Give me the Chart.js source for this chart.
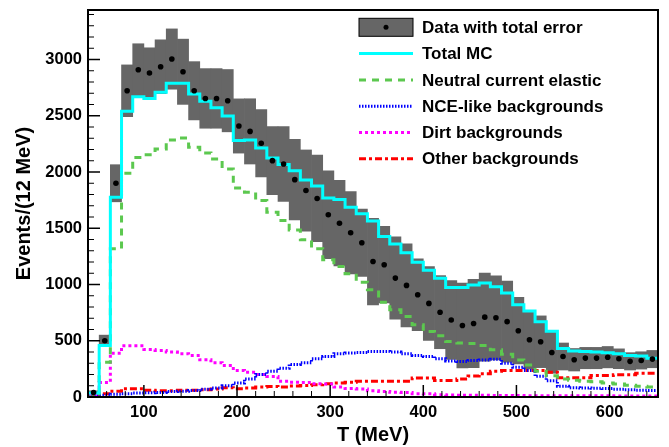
<!DOCTYPE html>
<html>
<head>
<meta charset="utf-8">
<script src="https://cdn.jsdelivr.net/npm/chart.js@4.4.0/dist/chart.umd.min.js"></script>
<style>
  html, body { margin: 0; padding: 0; background: #fff; }
  #wrap { width: 669px; height: 447px; }
</style>
</head>
<body>
<div id="wrap"><canvas id="myChart"></canvas></div>
<script>
// 51 bins of 12 MeV from 40 to 652 MeV
const binLow = 40;
const binWidth = 12;
const xTicks = [100, 200, 300, 400, 500, 600];
const yTicks = [0, 500, 1000, 1500, 2000, 2500, 3000];

const dataValues = [40, 500, 1900, 2722, 2909, 2880, 2936, 3004, 2891, 2722, 2654, 2654, 2634, 2409, 2361, 2255, 2101,
  2071, 1932, 1835, 1765, 1620, 1545, 1460, 1371, 1204, 1176, 1057, 992, 909, 832, 754, 685, 636, 653, 710, 704,
  670, 589, 509, 491, 396, 360, 331, 346, 346, 354, 340, 317, 325, 337];
const dataErrors = [15, 50, 165, 230, 231, 224, 239, 268, 290, 259, 265, 265, 277, 241, 290, 299, 302,
  333, 358, 361, 385, 390, 380, 365, 300, 385, 340, 366, 370, 320, 328, 325, 350, 377, 393, 392, 374,
  360, 296, 260, 230, 185, 120, 100, 95, 95, 95, 88, 77, 77, 77];
const totalMC = [35, 458, 1775, 2539, 2669, 2654, 2708, 2788, 2788, 2693, 2628, 2572, 2498, 2279, 2285, 2214, 2125,
  2066, 2012, 1930, 1875, 1770, 1755, 1686, 1630, 1565, 1426, 1361, 1282, 1198, 1127, 1055, 973, 973, 995, 1013, 980,
  925, 820, 765, 670, 585, 432, 408, 405, 400, 393, 384, 370, 365, 345];
const nce = [0, 310, 1317, 1988, 2130, 2154, 2205, 2285, 2302, 2219, 2170, 2116, 2027, 1858, 1820, 1746, 1642,
  1568, 1485, 1397, 1317, 1219, 1160, 1095, 1020, 953, 843, 775, 716, 642, 583, 544, 494, 479, 475, 458, 420,
  380, 330, 285, 230, 190, 160, 150, 140, 135, 125, 115, 105, 95, 88];
const nceLike = [10, 15, 25, 30, 35, 38, 40, 48, 52, 58, 70, 80, 100, 125, 160, 200, 230,
  255, 290, 305, 340, 360, 385, 392, 395, 405, 405, 400, 385, 370, 360, 340, 320, 315, 325, 330, 335,
  300, 265, 235, 185, 145, 95, 82, 80, 78, 75, 70, 65, 60, 58];
const dirt = [14, 130, 390, 455, 455, 423, 414, 399, 384, 369, 331, 305, 281, 236, 221, 201, 183,
  141, 132, 130, 118, 115, 88, 76, 72, 55, 50, 42, 40, 30, 28, 20, 17, 16, 15, 15, 14,
  14, 13, 12, 12, 12, 12, 11, 11, 11, 11, 10, 10, 10, 10];
const other = [20, 30, 52, 74, 74, 59, 55, 55, 59, 59, 65, 71, 82, 74, 80, 88, 94,
  88, 97, 103, 109, 118, 125, 132, 141, 141, 141, 141, 141, 168, 168, 147, 147, 160, 186, 207, 230,
  236, 236, 236, 236, 221, 171, 171, 171, 192, 192, 198, 198, 212, 212];

const FONT = '"Liberation Sans", Arial, Helvetica, sans-serif';
Chart.defaults.font.family = FONT;
Chart.defaults.color = '#000';

const binCenter = (i) => binLow + (i + 0.5) * binWidth;

// histogram outline: one point per left edge, plus the closing right edge
const stepPoints = (vals) => {
  const pts = vals.map((v, i) => ({x: binLow + i * binWidth, y: v}));
  pts.push({x: binLow + vals.length * binWidth, y: vals[vals.length - 1]});
  return pts;
};

const histLine = (label, vals, color, dash, order) => ({
  type: 'line',
  label: label,
  data: stepPoints(vals),
  borderColor: color,
  borderWidth: 3,
  borderDash: dash,
  stepped: 'before',
  pointRadius: 0,
  fill: false,
  order: order,
});

// ticks inside the frame, ROOT style
const frameTicks = {
  id: 'frameTicks',
  afterDatasetsDraw(chart) {
    const {ctx, chartArea: a, scales: {x, y}} = chart;
    ctx.save();
    ctx.strokeStyle = '#000';
    for (let t = 60; t < 652; t += 20) {
      const px = x.getPixelForValue(t);
      const major = t % 100 === 0;
      ctx.lineWidth = major ? 1.5 : 1;
      ctx.beginPath();
      ctx.moveTo(px, a.bottom);
      ctx.lineTo(px, a.bottom - (major ? 12 : 6));
      ctx.stroke();
    }
    for (let t = 100; t < 3440; t += 100) {
      const py = y.getPixelForValue(t);
      const major = t % 500 === 0;
      ctx.lineWidth = major ? 1.5 : 1;
      ctx.beginPath();
      ctx.moveTo(a.left, py);
      ctx.lineTo(a.left + (major ? 12 : 6), py);
      ctx.stroke();
    }
    ctx.lineWidth = 2;
    ctx.strokeRect(a.left, a.top, a.right - a.left, a.bottom - a.top);
    ctx.restore();
  }
};

const legendBox = {
  id: 'legendBox',
  afterDraw(chart) {
    const {ctx} = chart;
    const ds = chart.data.datasets;
    const items = [ds[1], ds[2], ds[3], ds[4], ds[5], ds[6]];
    const x0 = 359, x1 = 413, tx = 422, y0 = 27.3, dy = 26.3;
    ctx.save();
    ctx.font = 'bold 17px ' + FONT;
    ctx.textBaseline = 'middle';
    ctx.fillStyle = '#000';
    items.forEach((d, i) => {
      const yy = y0 + i * dy;
      if (i === 0) {
        ctx.fillStyle = d.backgroundColor;
        ctx.fillRect(x0, yy - 9, x1 - x0, 18);
        ctx.strokeStyle = '#000';
        ctx.lineWidth = 1;
        ctx.strokeRect(x0, yy - 9, x1 - x0, 18);
        ctx.fillStyle = '#000';
        ctx.beginPath();
        ctx.arc((x0 + x1) / 2, yy, 2.5, 0, Math.PI * 2);
        ctx.fill();
      } else {
        ctx.strokeStyle = d.borderColor;
        ctx.lineWidth = d.borderWidth;
        ctx.setLineDash(d.borderDash || []);
        ctx.beginPath();
        ctx.moveTo(x0, yy);
        ctx.lineTo(x1, yy);
        ctx.stroke();
        ctx.setLineDash([]);
      }
      ctx.fillStyle = '#000';
      ctx.fillText(d.label, tx, yy + 1);
    });
    ctx.restore();
  }
};

const ctx = document.getElementById('myChart').getContext('2d');
new Chart(ctx, {
  type: 'line',
  data: {
    datasets: [
      {
        type: 'line',
        label: 'Data points',
        data: dataValues.map((v, i) => ({x: binCenter(i), y: v})),
        showLine: false,
        pointRadius: 2.8,
        pointBorderWidth: 0,
        pointBackgroundColor: '#000',
        order: 1,
      },
      {
        type: 'bar',
        label: 'Data with total error',
        data: dataValues.map((v, i) => ({x: binCenter(i), y: [v - dataErrors[i], v + dataErrors[i]]})),
        backgroundColor: '#666666',
        borderWidth: 0,
        barPercentage: 1,
        categoryPercentage: 1,
        grouped: false,
        order: 10,
      },
      histLine('Total MC', totalMC, '#00ffff', [], 2),
      histLine('Neutral current elastic', nce, '#5cc84f', [7, 6], 3),
      histLine('NCE-like backgrounds', nceLike, '#0000ff', [1.5, 1.5], 4),
      histLine('Dirt backgrounds', dirt, '#ff00ff', [3, 3], 5),
      histLine('Other backgrounds', other, '#ff0000', [7, 3, 3, 3], 6),
    ]
  },
  options: {
    responsive: true,
    maintainAspectRatio: false,
    animation: false,
    layout: {padding: {top: 10, right: 11, left: 0, bottom: 0}},
    plugins: {legend: {display: false}, tooltip: {enabled: false}},
    scales: {
      x: {
        type: 'linear',
        min: 40,
        max: 652,
        offset: false,
        grid: {display: false, drawTicks: false},
        border: {display: false},
        afterBuildTicks: (s) => { s.ticks = xTicks.map((v) => ({value: v})); },
        afterFit: (s) => { s.height = 50; s.paddingLeft = 0; s.paddingRight = 0; },
        ticks: {
          padding: 6,
          maxRotation: 0,
          font: {size: 16.5, weight: 'bold'},
          callback: (v) => String(v),
        },
        title: {
          display: true,
          text: 'T (MeV)',
          font: {size: 20, weight: 'bold', lineHeight: 1.2},
          padding: {top: 0, bottom: 0},
        },
      },
      y: {
        min: 0,
        max: 3440,
        grid: {display: false, drawTicks: false},
        border: {display: false},
        afterBuildTicks: (s) => { s.ticks = yTicks.map((v) => ({value: v})); },
        afterFit: (s) => { s.width = 88; s.paddingTop = 0; s.paddingBottom = 0; },
        ticks: {
          padding: 6,
          font: {size: 16.5, weight: 'bold'},
          callback: (v) => String(v),
        },
        title: {
          display: true,
          text: 'Events/(12 MeV)',
          font: {size: 20, weight: 'bold', lineHeight: 1.2},
          padding: {top: 12, bottom: 0},
        },
      },
    },
  },
  plugins: [frameTicks, legendBox],
});
</script>
</body>
</html>
